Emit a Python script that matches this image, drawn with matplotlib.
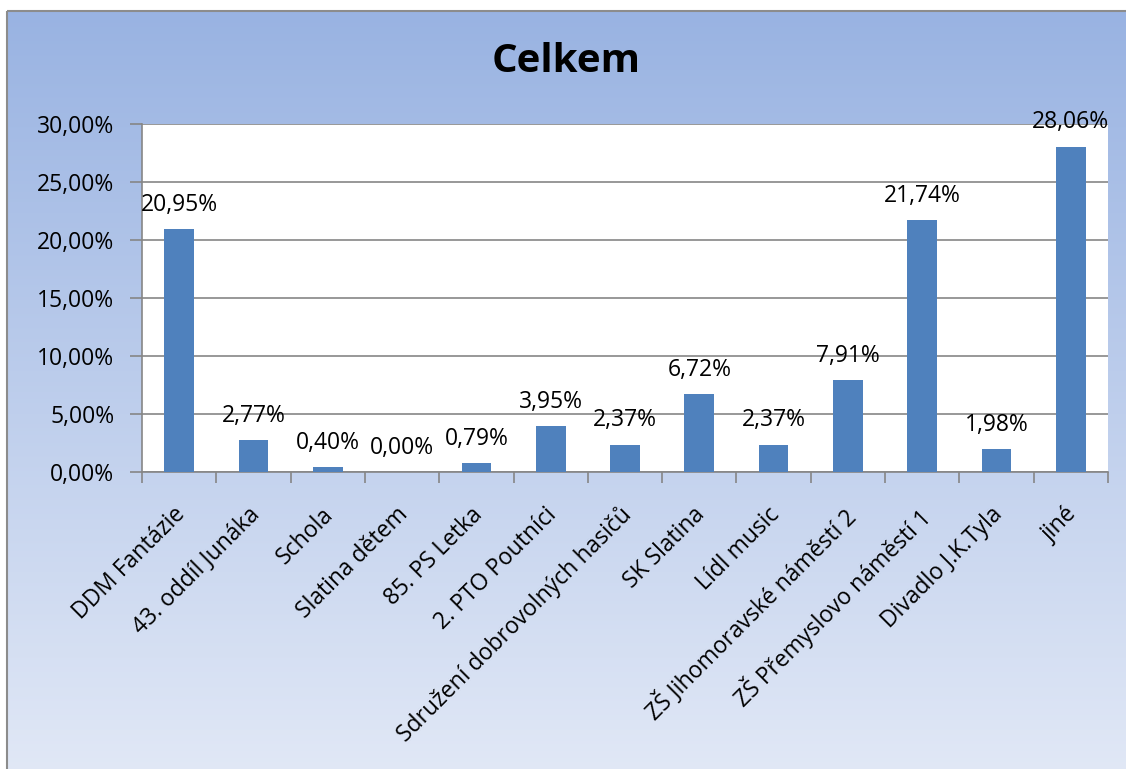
import numpy as np
import matplotlib.pyplot as plt
import matplotlib.transforms as mtransforms
from matplotlib.patches import Rectangle
from matplotlib.ticker import FuncFormatter

categories = ["DDM Fantázie", "43. oddíl Junáka", "Schola", "Slatina dětem",
              "85. PS Letka", "2. PTO Poutníci", "Sdružení dobrovolných hasičů",
              "SK Slatina", "Lídl music", "ZŠ Jihomoravské náměstí 2",
              "ZŠ Přemyslovo náměstí 1", "Divadlo J.K.Tyla", "jiné"]
values = [20.95, 2.77, 0.40, 0.00, 0.79, 3.95, 2.37, 6.72, 2.37, 7.91, 21.74, 1.98, 28.06]
yticks = [0, 5, 10, 15, 20, 25, 30]

plt.rcParams['font.family'] = ['Open Sans', 'DejaVu Sans']

W, H = 1126, 769
fig = plt.figure(figsize=(W / 100, H / 100), dpi=100)
fig.patch.set_facecolor("white")

# gradient background of the chart area
bg = fig.add_axes([0, 0, 1, 1], zorder=0)
top = np.array([0x99, 0xB3, 0xE2]) / 255
bot = np.array([0xE1, 0xE8, 0xF6]) / 255
t = np.linspace(0, 1, 256)[:, None]
grad = (top * (1 - t) + bot * t)[:, None, :]
bg.imshow(grad, aspect="auto", extent=[7, W + 5, H + 5, 11])
bg.add_patch(Rectangle((7, 11), W, H, fill=False, edgecolor="#8C8C8C", lw=1.5))
bg.set_xlim(0, W)
bg.set_ylim(H, 0)
bg.axis("off")

left, right, ytop, ybot = 142, 1108, 124, 472
ax = fig.add_axes([left / W, 1 - ybot / H, (right - left) / W, (ybot - ytop) / H], zorder=1)
ax.set_facecolor("white")

fs = 16.5
x = np.arange(len(categories))
ax.bar(x, values, width=0.4, color="#4F81BD", zorder=3)
for xi, v in zip(x, values):
    ax.text(xi, v + 1.05, f"{v:.2f}%".replace(".", ","), ha="center", va="bottom",
            fontsize=fs, color="black", zorder=4)

ax.set_xlim(-0.5, len(categories) - 0.5)
ax.set_ylim(0, 30)
ax.set_yticks(yticks)
ax.yaxis.set_major_formatter(FuncFormatter(lambda v, p: f"{v:.2f}%".replace(".", ",")))
ax.yaxis.grid(True, color="#868686", lw=1.2, zorder=1)
ax.set_axisbelow(True)

ax.set_xticks(np.arange(len(categories) + 1) - 0.5, minor=False)
ax.set_xticklabels([])
ax.set_xticks(x, minor=True)
ax.set_xticklabels(categories, minor=True, rotation=45, ha="right",
                   rotation_mode="anchor", fontsize=fs)
ax.tick_params(axis="x", which="minor", length=0, pad=22)
ax.tick_params(axis="x", which="major", length=8, width=1.2, color="#868686")
ax.tick_params(axis="y", length=9, width=1.2, color="#868686", labelsize=fs, pad=11)

shift = mtransforms.ScaledTranslation(-6 / 100, 0, fig.dpi_scale_trans)
for lbl in ax.get_xticklabels(minor=True):
    lbl.set_transform(lbl.get_transform() + shift)

for s in ["top", "right"]:
    ax.spines[s].set_visible(False)
for s in ["left", "bottom"]:
    ax.spines[s].set_color("#868686")
    ax.spines[s].set_linewidth(1.2)

fig.text((7 + W) / 2 / W, 1 - 62 / H, "Celkem", ha="center", va="center",
         fontsize=29, fontweight="bold")

fig.savefig("out.png", dpi=100)
